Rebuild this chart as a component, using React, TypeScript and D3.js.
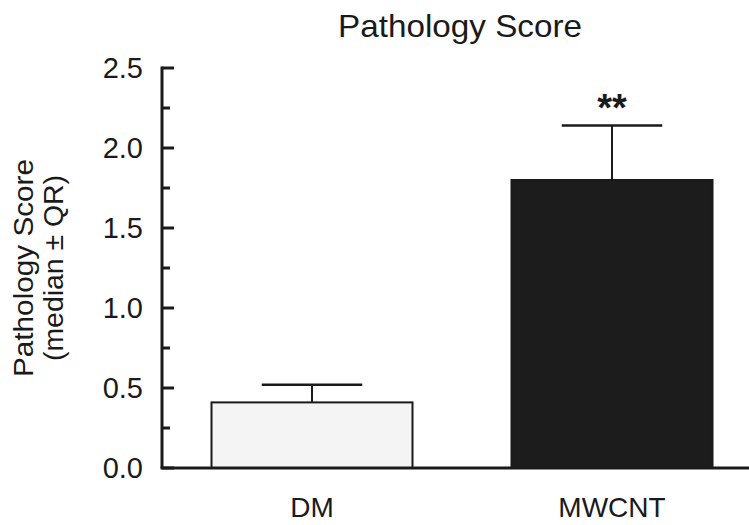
import React from 'react';
import * as d3 from 'd3';

// values
const groups = ['DM', 'MWCNT'];
const medians = [0.41, 1.8];
const upperQR = [0.52, 2.14];
const fills = ['#f4f4f4', '#1c1c1c'];
const marks = ['', '**'];
const yTicks = [0, 0.5, 1.0, 1.5, 2.0, 2.5];
const yMinor = [0.25, 0.75, 1.25, 1.75, 2.25];

const W = 749;
const H = 525;
const font = '"Liberation Sans", Arial, Helvetica, sans-serif';
const ink = '#1a1a1a';

export default function App() {
  const x = d3.scaleBand<string>().domain(groups).range([162, 762]).paddingInner(0.33).paddingOuter(0.165);
  const y = d3.scaleLinear().domain([0, 2.5]).range([468, 68]);
  const bw = x.bandwidth();
  const capW = bw / 2;

  return (
    <svg width={W} height={H} style={{ position: 'absolute', left: 0, top: 0 }} fontFamily={font}>
      <rect width={W} height={H} fill="#fff" />
      <text x={460} y={37} textAnchor="middle" fontSize={32} textLength={244} lengthAdjust="spacingAndGlyphs" fill={ink}>
        Pathology Score
      </text>

      {/* y axis label */}
      <g transform="translate(0,268) rotate(-90)" fontSize={27} fill={ink} textAnchor="middle">
        <text x={0} y={33} textLength={218} lengthAdjust="spacingAndGlyphs">Pathology Score</text>
        <text x={0} y={63} textLength={186} lengthAdjust="spacingAndGlyphs">(median ± QR)</text>
      </g>

      {/* bars + error bars */}
      {groups.map((g, i) => {
        const x0 = x(g) as number;
        const cx = x0 + bw / 2;
        return (
          <g key={g}>
            <line x1={cx} x2={cx} y1={y(medians[i])} y2={y(upperQR[i])} stroke={ink} strokeWidth={2} />
            <line x1={cx - capW / 2} x2={cx + capW / 2} y1={y(upperQR[i])} y2={y(upperQR[i])} stroke={ink} strokeWidth={2.5} />
            <rect x={x0} y={y(medians[i])} width={bw} height={y(0) - y(medians[i])} fill={fills[i]} stroke={ink} strokeWidth={2} />
            {marks[i] && (
              <text x={cx} y={y(upperQR[i]) - 5} textAnchor="middle" fontSize={38} fontWeight="bold" fill={ink}>{marks[i]}</text>
            )}
            <text x={cx} y={517} textAnchor="middle" fontSize={28} fill={ink}>{g}</text>
          </g>
        );
      })}

      {/* axes */}
      <line x1={162} x2={162} y1={y(2.5) - 1.5} y2={y(0)} stroke={ink} strokeWidth={3} />
      <line x1={160.5} x2={W} y1={y(0)} y2={y(0)} stroke={ink} strokeWidth={3} />
      {yTicks.map((t) => (
        <g key={t}>
          <line x1={162} x2={174} y1={y(t)} y2={y(t)} stroke={ink} strokeWidth={3} />
          <text x={143} y={y(t) + 10} textAnchor="end" fontSize={29} fill={ink}>{t.toFixed(1)}</text>
        </g>
      ))}
      {yMinor.map((t) => (
        <line key={t} x1={162} x2={170} y1={y(t)} y2={y(t)} stroke={ink} strokeWidth={3} />
      ))}
    </svg>
  );
}
